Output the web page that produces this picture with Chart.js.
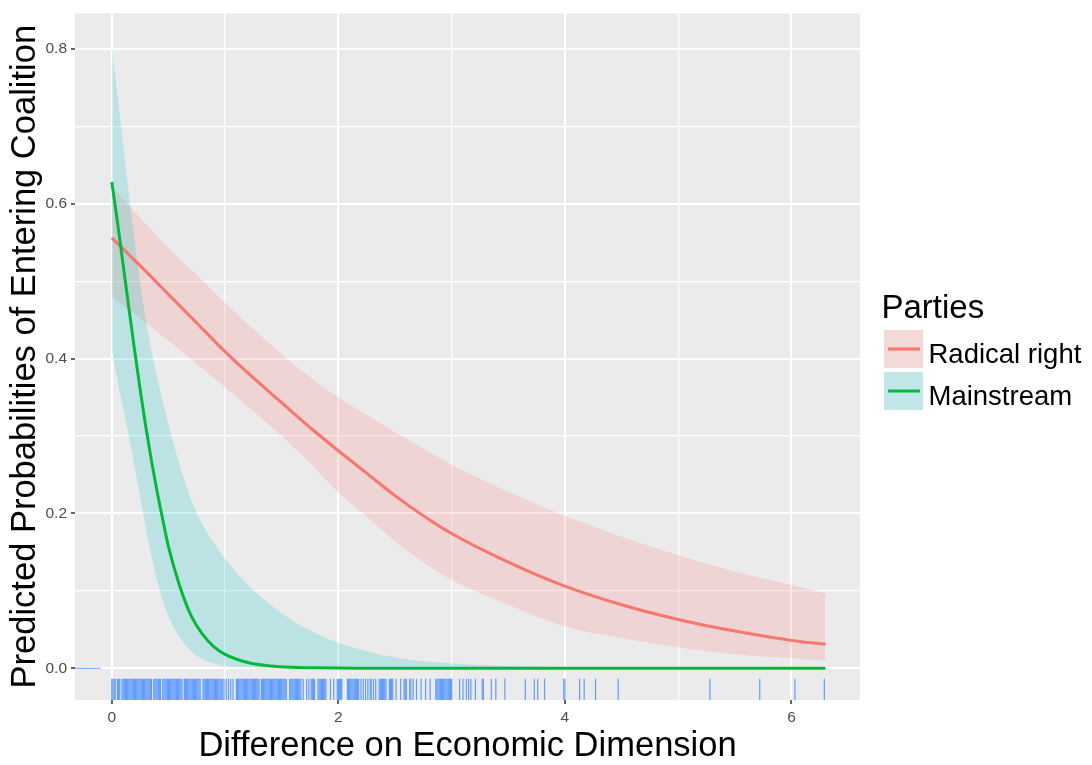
<!DOCTYPE html>
<html>
<head>
<meta charset="utf-8">
<script src="https://cdn.jsdelivr.net/npm/chart.js@4.4.1/dist/chart.umd.min.js"></script>
<style>
html, body { margin: 0; padding: 0; background: #ffffff; }
canvas { display: block; }
</style>
</head>
<body>
<canvas id="c" width="1092" height="765"></canvas>
<script>
// ---------- DATA ----------
const xTitle = 'Difference on Economic Dimension';
const yTitle = 'Predicted Probabilities of Entering Coalition';
const legendTitle = 'Parties';
const seriesNames = ['Radical right', 'Mainstream'];

const xTicks = [0, 1, 2, 3, 4, 5, 6];
const xTickLabels = ['0', '', '2', '', '4', '', '6'];
const yTicks = [0, 0.1, 0.2, 0.3, 0.4, 0.5, 0.6, 0.7, 0.8];
const yTickLabels = ['0.0', '', '0.2', '', '0.4', '', '0.6', '', '0.8'];

const radicalX     = [0, 0.25, 0.5, 0.75, 1, 1.25, 1.5, 1.75, 2, 2.25, 2.5, 2.75, 3, 3.5, 4, 4.5, 5, 5.5, 6, 6.3];
const radicalFit   = [0.556, 0.520, 0.483, 0.446, 0.409, 0.375, 0.343, 0.311, 0.281, 0.252, 0.223, 0.197, 0.174, 0.137, 0.106, 0.082, 0.063, 0.048, 0.036, 0.031];
const radicalUpper = [0.622, 0.582, 0.543, 0.508, 0.472, 0.438, 0.406, 0.376, 0.350, 0.327, 0.305, 0.284, 0.263, 0.228, 0.197, 0.170, 0.146, 0.125, 0.1075, 0.097];
const radicalLower = [0.480, 0.452, 0.423, 0.393, 0.363, 0.332, 0.300, 0.265, 0.227, 0.196, 0.164, 0.137, 0.114, 0.082, 0.054, 0.039, 0.027, 0.018, 0.0128, 0.0098];

const mainX     = [0, 0.05, 0.1, 0.15, 0.2, 0.25, 0.3, 0.35, 0.4, 0.45, 0.5, 0.6, 0.7, 0.8, 0.9, 1.0, 1.2, 1.4, 1.6, 1.8, 2.0, 2.25, 2.5, 2.75, 3.0, 3.5, 4.0, 4.5, 5.0, 5.5, 6.0, 6.3];
const mainFit   = [0.628, 0.576, 0.521, 0.466, 0.412, 0.360, 0.312, 0.268, 0.228, 0.192, 0.157, 0.106, 0.068, 0.044, 0.028, 0.018, 0.0075, 0.003, 0.0012, 0.0005, 0.0002, 0.0001, 0, 0, 0, 0, 0, 0, 0, 0, 0, 0];
const mainUpper = [0.803, 0.740, 0.677, 0.614, 0.553, 0.498, 0.450, 0.410, 0.376, 0.344, 0.315, 0.262, 0.218, 0.186, 0.162, 0.141, 0.108, 0.082, 0.061, 0.045, 0.033, 0.022, 0.014, 0.009, 0.006, 0.003, 0.0015, 0.0008, 0.0004, 0.0002, 0.0001, 0.0001];
const mainLower = [0.410, 0.372, 0.336, 0.300, 0.262, 0.222, 0.182, 0.145, 0.113, 0.087, 0.067, 0.040, 0.022, 0.012, 0.006, 0.003, 0.001, 0.0003, 0.0001, 0, 0, 0, 0, 0, 0, 0, 0, 0, 0, 0, 0, 0];

// observations (rug) on the x axis and on the y axis
const rugX = [
  0.00,0.01,0.02,0.03,0.05,0.06,0.07,0.09,0.10,0.11,0.12,0.13,0.14,0.15,0.16,0.17,0.18,0.19,0.20,0.21,0.22,0.23,0.24,0.25,0.26,0.27,0.28,0.29,0.30,0.31,0.32,0.33,0.34,0.35,0.37,0.38,0.39,0.40,0.41,0.42,0.43,0.45,0.46,0.47,0.48,0.49,0.50,0.51,0.52,0.53,0.54,0.55,0.56,0.57,0.58,0.59,0.60,0.61,0.62,0.64,0.65,0.66,0.67,0.68,0.69,0.70,0.71,0.72,0.73,0.74,0.75,0.76,0.77,0.78,
  0.805,0.815,0.825,0.835,0.845,0.855,0.865,0.875,0.885,0.895,0.905,0.915,0.925,0.935,0.945,0.955,0.965,0.975,
  0.99,1.01,1.03,1.05,1.07,
  1.10,1.11,1.12,1.13,1.14,1.15,1.16,1.17,1.18,1.19,1.20,1.21,1.22,1.23,1.24,1.25,1.26,1.27,1.28,1.29,1.30,
  1.32,1.33,1.34,1.35,1.36,1.37,1.38,1.39,1.40,1.41,1.42,1.43,1.44,1.45,1.46,1.47,1.48,1.49,1.50,1.51,1.52,1.53,1.54,
  1.57,1.58,1.59,1.60,1.61,1.62,1.63,1.64,1.65,1.66,1.67,
  1.69,1.72,1.74,1.76,1.77,1.78,1.79,1.82,1.83,1.84,1.85,1.86,1.87,1.88,1.89,1.93,1.96,1.99,2.00,2.01,2.02,2.03,
  2.08,2.09,2.10,2.11,2.12,2.13,2.14,2.15,2.16,2.17,2.18,2.20,2.22,2.24,2.26,2.28,2.29,2.31,2.33,2.36,2.37,2.38,2.39,2.40,2.41,2.42,2.45,2.46,2.47,2.48,2.51,2.55,2.58,2.59,2.60,2.63,2.64,2.66,2.69,2.73,2.77,2.81,
  2.86,2.87,2.88,2.89,2.90,2.91,2.92,2.93,2.94,2.95,2.96,2.97,2.98,2.99,3.00,
  3.07,3.10,3.13,3.15,3.17,3.21,3.27,3.28,3.35,3.39,3.47,3.65,3.73,3.76,3.82,3.99,4.00,4.13,4.17,4.27,4.47,5.28,5.72,6.03,6.29
];
const rugY = [0];

// axis ranges (ggplot-style expanded)
const xMin = -0.325, xMax = 6.605;
const yMin = -0.041, yMax = 0.846;

// ---------- STYLE ----------
const FONT = '"Liberation Sans", Arial, Helvetica, sans-serif';
const colRadical = '#F8766D';
const colMain = '#00BA38';
const fillRadical = 'rgba(248,118,109,0.2)';
const fillMain = 'rgba(0,191,196,0.2)';
const rugColor = '#619CFF';

Chart.defaults.font.family = FONT;

const pts = (xs, ys) => xs.map((x, i) => ({ x: x, y: ys[i] }));

const bandBase = {
  borderColor: 'rgba(0,0,0,0)',
  borderWidth: 0,
  pointRadius: 0,
  pointHoverRadius: 0,
  cubicInterpolationMode: 'monotone'
};

const datasets = [
  Object.assign({}, bandBase, { label: 'radLower', data: pts(radicalX, radicalLower), fill: false, order: 3 }),
  Object.assign({}, bandBase, { label: 'radUpper', data: pts(radicalX, radicalUpper), fill: '-1', backgroundColor: fillRadical, order: 3 }),
  Object.assign({}, bandBase, { label: 'mainLower', data: pts(mainX, mainLower), fill: false, order: 2 }),
  Object.assign({}, bandBase, { label: 'mainUpper', data: pts(mainX, mainUpper), fill: '-1', backgroundColor: fillMain, order: 2 }),
  {
    label: seriesNames[0], data: pts(radicalX, radicalFit), borderColor: colRadical, borderWidth: 3,
    pointRadius: 0, pointHoverRadius: 0, fill: false, cubicInterpolationMode: 'monotone', order: 1,
    legendKey: fillRadical
  },
  {
    label: seriesNames[1], data: pts(mainX, mainFit), borderColor: colMain, borderWidth: 3,
    pointRadius: 0, pointHoverRadius: 0, fill: false, cubicInterpolationMode: 'monotone', order: 0,
    legendKey: fillMain
  }
];

// ---------- PLUGINS ----------
const panelBg = {
  id: 'panelBg',
  beforeDraw(chart) {
    const { ctx, chartArea: a } = chart;
    ctx.save();
    ctx.fillStyle = '#FFFFFF';
    ctx.fillRect(0, 0, chart.width, chart.height);
    ctx.fillStyle = '#EBEBEB';
    ctx.fillRect(a.left, a.top, a.right - a.left, a.bottom - a.top);
    ctx.restore();
  }
};

const rugPlugin = {
  id: 'rug',
  afterDatasetsDraw(chart) {
    const { ctx, chartArea: a, scales } = chart;
    ctx.save();
    ctx.beginPath();
    ctx.rect(a.left, a.top, a.right - a.left, a.bottom - a.top);
    ctx.clip();
    ctx.strokeStyle = rugColor;
    ctx.lineWidth = 1.2;
    const lenX = 0.031 * (a.bottom - a.top);
    rugX.forEach(v => {
      const px = scales.x.getPixelForValue(v);
      ctx.beginPath();
      ctx.moveTo(px, a.bottom);
      ctx.lineTo(px, a.bottom - lenX);
      ctx.stroke();
    });
    const lenY = 0.033 * (a.right - a.left);
    rugY.forEach(v => {
      const py = scales.y.getPixelForValue(v);
      ctx.beginPath();
      ctx.moveTo(a.left, py);
      ctx.lineTo(a.left + lenY, py);
      ctx.stroke();
    });
    ctx.restore();
  }
};

const ggLegend = {
  id: 'ggLegend',
  afterDraw(chart) {
    const ctx = chart.ctx;
    const a = chart.chartArea;
    const left = a.right + 24;
    ctx.save();
    ctx.textAlign = 'left';
    ctx.textBaseline = 'alphabetic';
    ctx.fillStyle = '#000000';
    ctx.font = '33px ' + FONT;
    ctx.fillText(legendTitle, left - 2.5, 318);
    const items = chart.data.datasets.filter(d => d.legendKey);
    items.forEach((d, i) => {
      const top = 330 + i * 42;
      ctx.fillStyle = '#F2F2F2';
      ctx.fillRect(left, top, 39, 38);
      ctx.fillStyle = d.legendKey;
      ctx.fillRect(left, top, 39, 38);
      ctx.strokeStyle = d.borderColor;
      ctx.lineWidth = 3;
      ctx.beginPath();
      ctx.moveTo(left + 4, top + 19);
      ctx.lineTo(left + 36, top + 19);
      ctx.stroke();
      ctx.fillStyle = '#000000';
      ctx.font = '27.5px ' + FONT;
      ctx.fillText(d.label, left + 44.5, top + 33);
    });
    ctx.restore();
  }
};

const isMajorX = c => xTickLabels[c.index] !== '' && xTickLabels[c.index] !== undefined;
const isMajorY = c => yTickLabels[c.index] !== '' && yTickLabels[c.index] !== undefined;

new Chart(document.getElementById('c'), {
  type: 'line',
  data: { datasets: datasets },
  plugins: [panelBg, rugPlugin, ggLegend],
  options: {
    responsive: false,
    animation: false,
    devicePixelRatio: 1,
    events: [],
    layout: { padding: { top: 4, right: 232, bottom: 0, left: 0 } },
    plugins: { legend: { display: false }, tooltip: { enabled: false } },
    scales: {
      x: {
        type: 'linear',
        min: xMin, max: xMax,
        afterBuildTicks: ax => { ax.ticks = xTicks.map(v => ({ value: v })); },
        afterFit: ax => { ax.height = 65; },
        ticks: {
          autoSkip: false, maxRotation: 0, padding: 4, color: '#4D4D4D',
          font: { size: 15.5 },
          callback: (v, i) => xTickLabels[i]
        },
        grid: {
          color: '#FFFFFF',
          lineWidth: c => isMajorX(c) ? 2 : 1.2,
          drawTicks: true, tickLength: 4,
          tickColor: c => isMajorX(c) ? '#333333' : 'rgba(0,0,0,0)',
          tickWidth: 1.5
        },
        border: { display: false },
        title: { display: true, text: xTitle, color: '#000000', font: { size: 34.5, lineHeight: 1.1 }, padding: { top: 0, bottom: 0 } }
      },
      y: {
        type: 'linear',
        min: yMin, max: yMax,
        afterBuildTicks: ax => { ax.ticks = yTicks.map(v => ({ value: v })); },
        afterFit: ax => { ax.width = 75; },
        ticks: {
          autoSkip: false, padding: 4, color: '#4D4D4D',
          font: { size: 15.5 },
          callback: (v, i) => yTickLabels[i]
        },
        grid: {
          color: '#FFFFFF',
          lineWidth: c => isMajorY(c) ? 2 : 1.2,
          drawTicks: true, tickLength: 4,
          tickColor: c => isMajorY(c) ? '#333333' : 'rgba(0,0,0,0)',
          tickWidth: 1.5
        },
        border: { display: false },
        title: { display: true, text: yTitle, color: '#000000', font: { size: 34.5, lineHeight: 1.1 }, padding: { top: 7, bottom: 0 } }
      }
    }
  }
});
</script>
</body>
</html>
